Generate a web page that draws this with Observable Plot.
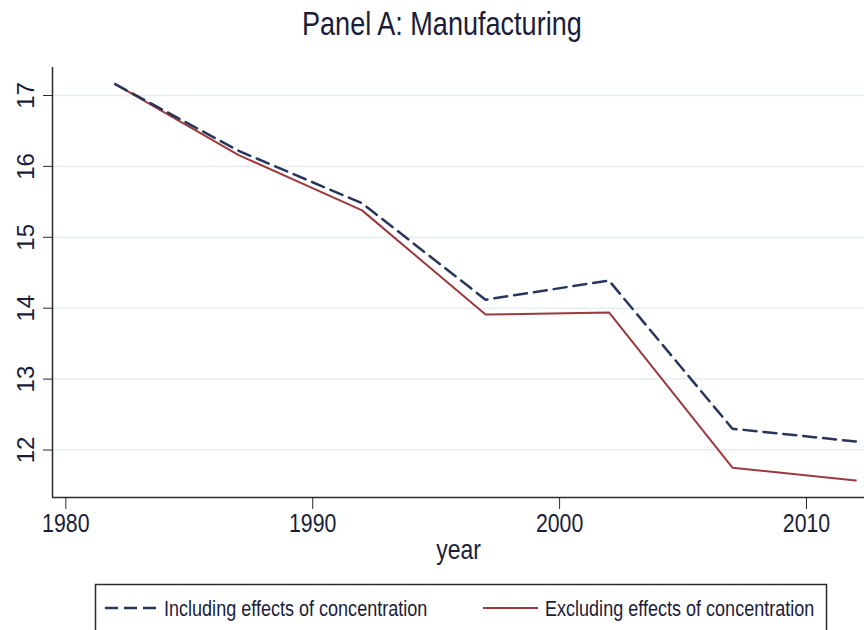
<!DOCTYPE html>
<html>
<head>
<meta charset="utf-8">
<script src="https://cdn.jsdelivr.net/npm/d3@7"></script>
<script src="https://cdn.jsdelivr.net/npm/@observablehq/plot@0.6"></script>
<style>
  html, body { margin: 0; padding: 0; background: #fff; width: 864px; height: 630px; overflow: hidden; }
  #page { position: relative; width: 864px; height: 630px; }
  #title {
    position: absolute; left: 302px; top: 7px; margin: 0;
    font-family: "Liberation Sans", Arial, sans-serif;
    font-size: 33px; line-height: 33px; font-weight: normal; color: #1a1d3a; white-space: nowrap;
    transform: scaleX(0.82); transform-origin: left top;
  }
  #chart { position: absolute; left: 0; top: 50px; }
  #legend { position: absolute; left: 0; top: 575px; }
</style>
</head>
<body>
<div id="page">
  <h1 id="title">Panel A: Manufacturing</h1>
  <div id="chart"></div>
  <div id="legend"></div>
</div>
<script>
// Census years and the two series (percent)
const years = [1982, 1987, 1992, 1997, 2002, 2007, 2012];
const including = [17.16, 16.22, 15.48, 14.12, 14.39, 12.30, 12.12];
const excluding = [17.16, 16.16, 15.38, 13.91, 13.94, 11.75, 11.57];

// Axis ticks
const xTicks = [1980, 1990, 2000, 2010];
const yTicks = [12, 13, 14, 15, 16, 17];

// Series labels
const seriesNames = ["Including effects of concentration", "Excluding effects of concentration"];

const sans = "Liberation Sans, Arial, sans-serif";
const narrowScale = 0.82; // horizontal squeeze for the narrow lettering
const ink = "#1a1d3a";
const navy = "#27365c";
const maroon = "#9b3a3f";

const xDomain = [1979.46, 2012.35];
const yDomain = [11.33, 17.395];

const rows = years.map((year, i) => ({year, including: including[i], excluding: excluding[i]}));

const chart = Plot.plot({
  width: 864,
  height: 525,
  marginLeft: 52,
  marginRight: 0,
  marginTop: 17,
  marginBottom: 78,
  style: {background: "transparent", color: ink, overflow: "visible", fontFamily: sans},
  x: {domain: xDomain},
  y: {domain: yDomain},
  marks: [
    Plot.gridY(yTicks, {stroke: "#e4edef", strokeOpacity: 1, strokeWidth: 1.5}),
    Plot.ruleX([xDomain[0]], {stroke: "#2b2b2b", strokeWidth: 1.5}),
    Plot.ruleY([yDomain[0]], {stroke: "#2b2b2b", strokeWidth: 1.5}),
    Plot.axisY(yTicks, {
      tickSize: 9, tickRotate: -90, tickPadding: 10, tickFormat: d => String(d),
      fontSize: 24, fontFamily: sans, stroke: "#2b2b2b", fill: ink, label: null
    }),
    Plot.axisX(xTicks, {
      tickSize: 12, tickPadding: 4, tickFormat: d => String(d),
      fontSize: 26, fontFamily: sans, stroke: "#2b2b2b", fill: ink, label: null
    }),
    Plot.text(["year"], {frameAnchor: "bottom", lineAnchor: "bottom", dy: 61, fontSize: 28, fontFamily: sans, fill: ink}),
    Plot.line(rows, {x: "year", y: "excluding", stroke: maroon, strokeWidth: 2}),
    Plot.line(rows, {x: "year", y: "including", stroke: navy, strokeWidth: 2.5, strokeDasharray: "13,7"})
  ]
});

// Squeeze x-axis labels and the axis title horizontally about their anchors
function condense(node) {
  const t = node.getAttribute("transform");
  if (t && t.includes("translate")) {
    node.setAttribute("transform", `${t} scale(${narrowScale},1)`);
  } else {
    const x = +(node.getAttribute("x") || 0);
    node.setAttribute("transform", `translate(${x},0) scale(${narrowScale},1) translate(${-x},0)`);
  }
}
d3.select(chart).selectAll('g[aria-label="x-axis tick label"] text, g[aria-label="text"] text')
  .each(function() { condense(this); });

document.getElementById("chart").append(chart);

// Legend box below the plot
const lg = d3.select("#legend").append("svg")
  .attr("width", 864).attr("height", 60)
  .style("display", "block");
lg.append("rect")
  .attr("x", 95.5).attr("y", 9.5).attr("width", 731).attr("height", 70)
  .attr("fill", "none").attr("stroke", "#2b2b2b").attr("stroke-width", 1.5);
const items = [
  {name: seriesNames[0], color: navy, dash: "13,6", width: 2.5, x0: 105, x1: 159, tx: 164},
  {name: seriesNames[1], color: maroon, dash: null, width: 2, x0: 483, x1: 538, tx: 545}
];
for (const it of items) {
  lg.append("line")
    .attr("x1", it.x0).attr("x2", it.x1).attr("y1", 33).attr("y2", 33)
    .attr("stroke", it.color).attr("stroke-width", it.width)
    .attr("stroke-dasharray", it.dash);
  lg.append("text")
    .attr("transform", `translate(${it.tx},41) scale(${narrowScale},1)`)
    .attr("font-family", sans).attr("font-size", 22).attr("fill", ink)
    .text(it.name);
}
</script>
</body>
</html>
